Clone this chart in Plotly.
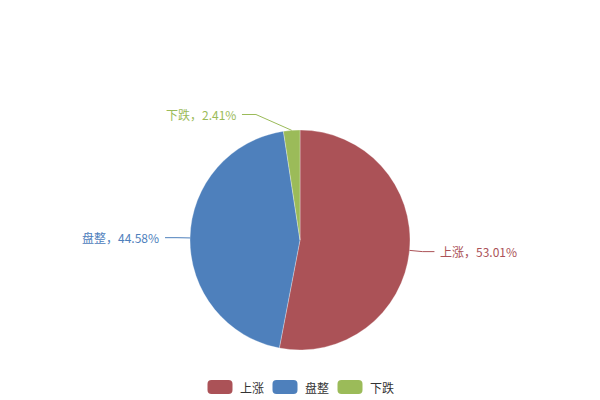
import math
import plotly.graph_objects as go

categories = ["上涨", "盘整", "下跌"]
values = [53.01, 44.58, 2.41]
colors = ["#AB5257", "#4E80BC", "#9BBB59"]

W, H = 600, 400
CX, CY, R = 300, 240, 110
# label layout tweaks (elbow radius and angular nudge in degrees)
elbow_r = [123, 123, 133]
elbow_nudge = [0, 0, -15]
seg2 = [12, 12, 14]
TGAP = 4

fig = go.Figure(go.Pie(
    labels=categories, values=values, sort=False, direction="clockwise",
    rotation=0, marker=dict(colors=colors, line=dict(color="rgba(255,255,255,0.6)", width=0.5)),
    textinfo="none", hoverinfo="label+percent", showlegend=False,
    domain=dict(x=[(CX - R) / W, (CX + R) / W], y=[1 - (CY + R) / H, 1 - (CY - R) / H]),
))

def px(x, y):
    return x / W, 1 - y / H

total = sum(values)
cum = 0
shapes, annotations = [], []
for i, (c, v) in enumerate(zip(categories, values)):
    mid = (cum + v / 2) / total * 360
    cum += v
    a = math.radians(mid)
    ex, ey = CX + R * math.sin(a), CY - R * math.cos(a)
    a2 = math.radians(mid + elbow_nudge[i])
    bx, by = CX + elbow_r[i] * math.sin(a2), CY - elbow_r[i] * math.cos(a2)
    side = 1 if math.sin(a2) > 0 else -1
    tx = bx + side * seg2[i]
    p0, p1, p2 = px(ex, ey), px(bx, by), px(tx, by)
    shapes.append(dict(type="path", xref="paper", yref="paper",
                       path=f"M {p0[0]},{p0[1]} L {p1[0]},{p1[1]} L {p2[0]},{p2[1]}",
                       line=dict(color=colors[i], width=1)))
    lx, ly = px(tx + side * TGAP, by)
    annotations.append(dict(xref="paper", yref="paper", x=lx, y=ly, showarrow=False,
                            text=f"{c}，{v:.2f}%", xanchor="left" if side > 0 else "right",
                            yanchor="middle", font=dict(color=colors[i], size=12)))

# custom legend (rounded swatches)
SW, SH, RAD, GAP, TXT, ITEM_GAP = 25, 14, 4, 5, 25, 10
LY = 387
total_w = len(categories) * (SW + GAP + TXT) + (len(categories) - 1) * ITEM_GAP
x0 = W / 2 - total_w / 2
for i, c in enumerate(categories):
    l, r = x0, x0 + SW
    t, b = LY - SH / 2, LY + SH / 2
    pts = [
        ("M", l + RAD, t), ("L", r - RAD, t), ("Q", r, t, r, t + RAD), ("L", r, b - RAD),
        ("Q", r, b, r - RAD, b), ("L", l + RAD, b), ("Q", l, b, l, b - RAD),
        ("L", l, t + RAD), ("Q", l, t, l + RAD, t),
    ]
    path = ""
    for p in pts:
        coords = p[1:]
        segs = []
        for k in range(0, len(coords), 2):
            qx, qy = px(coords[k], coords[k + 1])
            segs.append(f"{qx},{qy}")
        path += f"{p[0]} " + " ".join(segs) + " "
    shapes.append(dict(type="path", xref="paper", yref="paper", path=path + "Z",
                       fillcolor=colors[i], line=dict(width=0)))
    lx, ly = px(r + GAP, LY)
    annotations.append(dict(xref="paper", yref="paper", x=lx, y=ly, showarrow=False,
                            text=c, xanchor="left", yanchor="middle",
                            font=dict(color="#333", size=12)))
    x0 = r + GAP + TXT + ITEM_GAP

fig.update_layout(
    width=W, height=H, margin=dict(l=0, r=0, t=0, b=0),
    paper_bgcolor="white", plot_bgcolor="white",
    font=dict(family="Noto Sans CJK SC", size=12, color="#333"),
    shapes=shapes, annotations=annotations, showlegend=False,
)
fig.write_html("out.html", config={"displayModeBar": False},
               post_script="document.body.style.margin='0';")
